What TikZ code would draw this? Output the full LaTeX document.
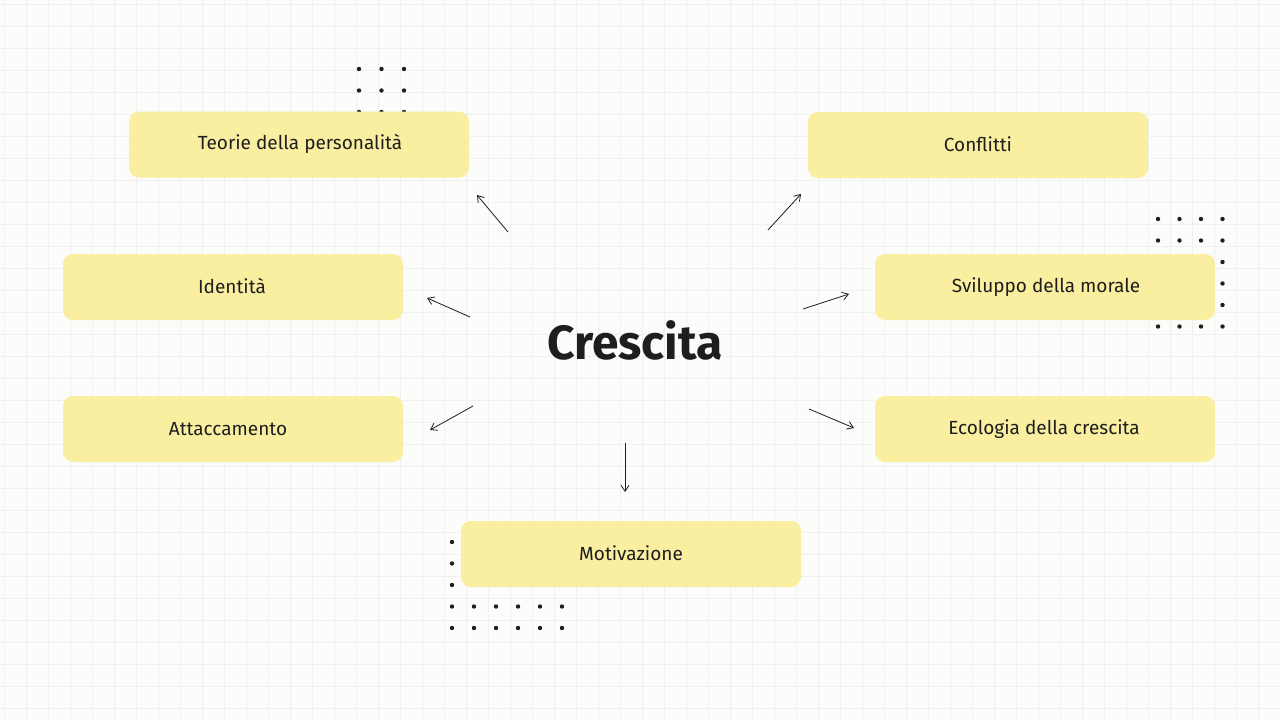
\documentclass[tikz,border=0pt]{standalone}
\usepackage{fontspec}
\setmainfont{Fira Sans}
\usetikzlibrary{arrows.meta}
\definecolor{bg}{RGB}{252,252,250}
\definecolor{gridc}{RGB}{240,240,238}
\definecolor{boxc}{RGB}{250,239,160}
\definecolor{ink}{RGB}{30,30,30}
\tikzset{
  box/.style={fill=boxc,rounded corners=10pt,minimum width=340pt,minimum height=66pt,inner sep=0pt},
  lbl/.style={font=\fontsize{19}{22}\selectfont,text=ink},
  arr/.style={-{Straight Barb[length=6pt,width=8pt]},draw=ink,line width=0.8pt}
}
\begin{document}
\begin{tikzpicture}[x=1pt,y=-1pt]
\useasboundingbox (0,0) rectangle (1280,720);
\fill[bg] (0,0) rectangle (1280,720);
\foreach \i in {0,...,58} \draw[gridc,line width=0.5pt] (\i*22+4,0) -- (\i*22+4,720);
\foreach \j in {0,...,33} \draw[gridc,line width=0.5pt] (0,\j*22+4) -- (1280,\j*22+4);
% dot grids
\foreach \i in {0,1,2} \foreach \j in {0,1,2} \fill[ink] (359+\i*22.5,69+\j*21.5) circle[radius=2.2pt];
\foreach \i in {0,...,3} \foreach \j in {0,...,5} \fill[ink] (1158+\i*21.5,219+\j*21.5) circle[radius=2.2pt];
\foreach \i in {0,...,5} \foreach \j in {0,...,4} \fill[ink] (452+\i*22,542+\j*21.5) circle[radius=2.2pt];
% boxes
\node[box] (teo) at (299,144.5) {};
\node[lbl] at (300,144) {Teorie della personalità};
\node[box] (con) at (978,145) {};
\node[lbl] at (978,144) {Conflitti};
\node[box] (ide) at (233,287) {};
\node[lbl] at (232,286) {Identità};
\node[box] (svi) at (1045,287) {};
\node[lbl] at (1046,287) {Sviluppo della morale};
\node[box] (att) at (233,429) {};
\node[lbl] at (228,429) {Attaccamento};
\node[box] (eco) at (1045,429) {};
\node[lbl] at (1044,429) {Ecologia della crescita};
\node[box] (mot) at (631,554) {};
\node[lbl] at (631,553) {Motivazione};
\node[font=\bfseries\fontsize{48}{54}\selectfont,text=ink] (cre) at (635,340) {Crescita};
% arrows
\coordinate (a1) at (508,232); \coordinate (b1) at (477,195);
\coordinate (a2) at (470,317); \coordinate (b2) at (427,298);
\coordinate (a3) at (473,406); \coordinate (b3) at (430,430);
\coordinate (a4) at (625,443); \coordinate (b4) at (625,492);
\coordinate (a5) at (768,230); \coordinate (b5) at (801,194);
\coordinate (a6) at (803,309); \coordinate (b6) at (849,294);
\coordinate (a7) at (809,409); \coordinate (b7) at (854,428);
\foreach \k in {1,...,7} \draw[arr] (a\k) -- (b\k);
\end{tikzpicture}
\end{document}
